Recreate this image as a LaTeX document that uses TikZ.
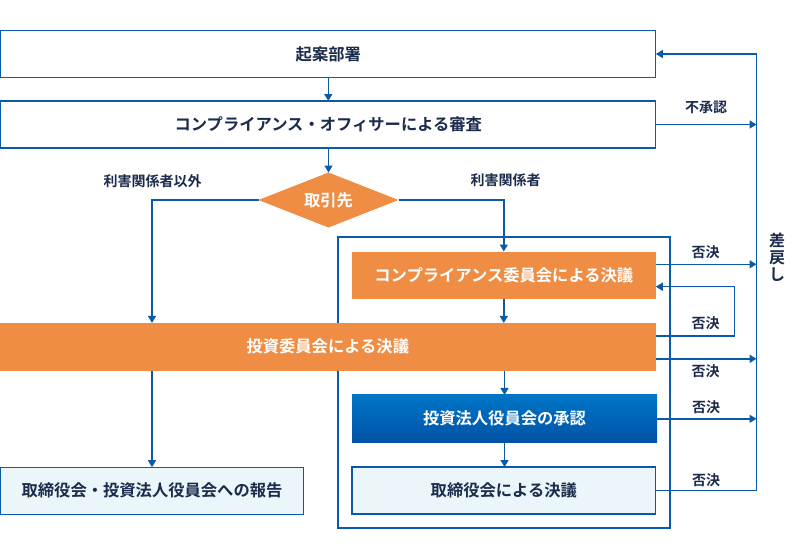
\documentclass[tikz,border=0pt]{standalone}
\usepackage{fontspec}
\setmainfont{Noto Sans CJK JP}[BoldFont={Noto Sans CJK JP Bold}]
\usetikzlibrary{shapes.geometric,arrows.meta,calc}
\definecolor{lineblue}{HTML}{0B5AA8}
\definecolor{navy}{HTML}{1B2B4B}
\definecolor{orangefill}{HTML}{F08D44}
\definecolor{lightfill}{HTML}{EAF6FA}
\definecolor{gradtop}{HTML}{0075C7}
\definecolor{gradbot}{HTML}{0053A5}
\newcommand\boxfont{\fontsize{16.3}{18}\selectfont\bfseries}
\newcommand\lblfont{\fontsize{14}{16}\selectfont\bfseries}
\tikzset{
  conn/.style={draw=lineblue, line width=1.5pt},
  arr/.style={conn, -{Triangle[length=7pt,width=8pt]}},
  basebox/.style={inner sep=0pt, outer sep=0pt, font=\boxfont, minimum height=47pt},
  wbox/.style={basebox, draw=lineblue, line width=1.2pt, fill=white, text=navy},
  lbox/.style={basebox, draw=lineblue, line width=1.2pt, fill=lightfill, text=navy},
  obox/.style={basebox, fill=orangefill, text=white},
  gbox/.style={basebox, top color=gradtop, bottom color=gradbot, text=white},
  lbl/.style={font=\lblfont, text=navy, inner sep=0pt},
}
\begin{document}
\begin{tikzpicture}[x=1pt,y=-1pt]
\useasboundingbox (0,0) rectangle (800,551);
% frame
\node[draw=lineblue, line width=2.4pt, minimum width=332pt, minimum height=291pt, inner sep=0pt] (frame) at (504,382.5) {};
% boxes
\node[wbox, minimum width=655pt] (b1) at (328.3,54) {起案部署};
\node[wbox, minimum width=655pt] (b2) at (328.3,124.5) {コンプライアンス・オフィサーによる審査};
\node[diamond, fill=orangefill, minimum width=140pt, minimum height=55pt, inner sep=0pt, outer sep=0pt] (dec) at (328.5,200) {};
\node[font=\boxfont, text=white, inner sep=0pt] (dect) at (dec) {取引先};
\node[obox, minimum width=304pt] (A) at (503.8,275) {コンプライアンス委員会による決議};
\node[obox, minimum width=656pt, minimum height=47.7pt] (B) at (327.8,346.8) {投資委員会による決議};
\node[gbox, minimum width=305pt, minimum height=47.7pt] (C) at (504.5,418.8) {投資法人役員会の承認};
\node[lbox, minimum width=303.5pt] (D) at (503.8,490.5) {取締役会による決議};
\node[lbox, minimum width=302.5pt] (E) at (152,490.7) {取締役会・投資法人役員会への報告};
% helper coordinates
\coordinate (rx) at (756.5,0);
\coordinate (lx) at (152,0);
\coordinate (a1) at ([yshift=10.7pt]A.east);
\coordinate (a2) at ([yshift=-11.7pt]A.east);
\coordinate (br1) at ([yshift=10.8pt]B.east);
\coordinate (br2) at ([yshift=-12pt]B.east);
% connectors
\draw[arr] (b1.south) -- (b1.south |- b2.north);
\draw[arr] (b2.south -| dec.north) -- (dec.north);
\draw[arr] (dec.west) -| (lx |- B.north);
\draw[arr] (dec.east) -| (A.north);
\draw[arr] (A.south) -- (A.south |- B.north);
\draw[arr] (C.north |- B.south) -- (C.north);
\draw[arr] (C.south) -- (C.south |- D.north);
\draw[arr] (E.north |- B.south) -- (E.north);
\draw[arr] (D.east) -- (rx |- D.east) -- (rx |- b1.east) -- (b1.east);
\draw[arr] (b2.east) -- (rx |- b2.east);
\draw[arr] (a1) -- (rx |- a1);
\draw[arr] (br1) -- ++(78.5,0) |- (a2);
\draw[arr] (br2) -- (rx |- br2);
\draw[arr] (C.east) -- (rx |- C.east);
% labels
\node[lbl] (l1) at (706,107) {不承認};
\node[lbl] (l2) at (152.7,180.7) {利害関係者以外};
\node[lbl] (l3) at (505.5,180.5) {利害関係者};
\node[lbl] (l4) at (705.7,252.3) {否決};
\node[lbl] (l5) at (705.7,323.3) {否決};
\node[lbl] (l6) at (705.7,371) {否決};
\node[lbl] (l7) at (706,407) {否決};
\node[lbl] (l8) at (706,480) {否決};
\node[font=\fontsize{16}{17}\selectfont\bfseries, text=navy, align=center, inner sep=0pt] (sd) at (777,257) {差\\戻\\し};
\end{tikzpicture}
\end{document}
